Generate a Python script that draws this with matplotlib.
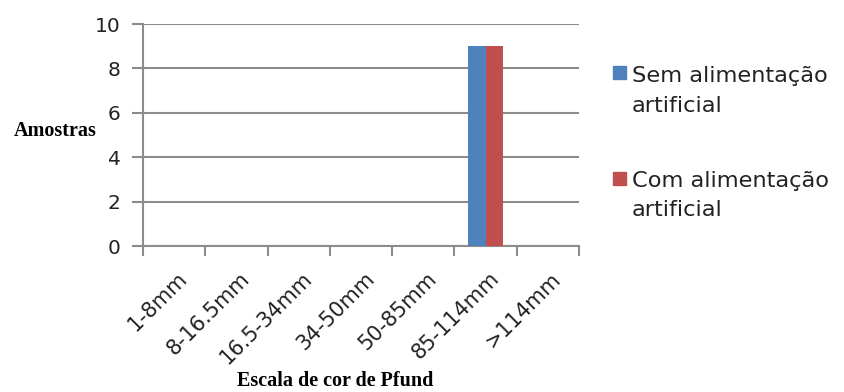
import matplotlib
matplotlib.use("Agg")
import matplotlib.pyplot as plt
from matplotlib.patches import Rectangle
from matplotlib.transforms import ScaledTranslation
import numpy as np

categories = ["1-8mm", "8-16.5mm", "16.5-34mm", "34-50mm", "50-85mm", "85-114mm", ">114mm"]
sem_alimentacao = [0, 0, 0, 0, 0, 9, 0]
com_alimentacao = [0, 0, 0, 0, 0, 9, 0]
series_names = ["Sem alimentação\nartificial", "Com alimentação\nartificial"]
series_colors = ["#4f81bd", "#c0504d"]
y_ticks = [0, 2, 4, 6, 8, 10]

W, H = 844, 392
fig = plt.figure(figsize=(W / 100, H / 100), dpi=100)
ax = fig.add_axes([143 / W, 1 - 246 / H, (579 - 143) / W, (246 - 24) / H])

grid_col = "#8c8c8c"
text_col = "#222222"
sans = "DejaVu Sans"
x = np.arange(len(categories))
w = 0.28
ax.bar(x - w / 2, sem_alimentacao, width=w, color=series_colors[0], zorder=3)
ax.bar(x + w / 2, com_alimentacao, width=w, color=series_colors[1], zorder=3)

ax.set_xlim(-0.5, len(categories) - 0.5)
ax.set_ylim(0, 10)
ax.set_yticks(y_ticks)
ax.yaxis.grid(True, color=grid_col, linewidth=1.5, zorder=0)
ax.set_axisbelow(True)

for side in ["top", "right"]:
    ax.spines[side].set_visible(False)
for side in ["left", "bottom"]:
    ax.spines[side].set_color(grid_col)
    ax.spines[side].set_linewidth(1.5)

# category labels at centres, tick marks at category boundaries
ax.set_xticks(x)
ax.set_xticklabels(categories, rotation=45, ha="right", va="top", rotation_mode="anchor",
                   fontsize=15, family=sans, color=text_col)
ax.tick_params(axis="x", length=0, pad=16)
shift = ScaledTranslation(3 / 100, 0, fig.dpi_scale_trans)
for lbl in ax.get_xticklabels():
    lbl.set_transform(lbl.get_transform() + shift)
ax.set_xticks(np.arange(-0.5, len(categories)), minor=True)
ax.tick_params(axis="x", which="minor", length=7, width=1.5, color=grid_col)
ax.tick_params(axis="y", length=8, width=1.5, color=grid_col, labelsize=14.5, pad=8)
for lbl in ax.get_yticklabels():
    lbl.set_family(sans)
    lbl.set_color(text_col)

fig.text(97 / W, 1 - 131 / H, "Amostras", ha="right", va="center",
         fontsize=14.5, fontweight="bold", family="Liberation Serif")
fig.text(335 / W, 1 - 381 / H, "Escala de cor de Pfund", ha="center", va="center",
         fontsize=14.5, fontweight="bold", family="Liberation Serif")

# legend: colour square beside the first line of each two-line entry
legend_rows = [(66, 82), (172, 187)]
for name, col, (sq_top, base) in zip(series_names, series_colors, legend_rows):
    fig.patches.append(Rectangle((613 / W, 1 - (sq_top + 13) / H), 13 / W, 13 / H,
                                 transform=fig.transFigure, color=col))
    for i, line in enumerate(name.split("\n")):
        fig.text(632 / W, 1 - (base + 29.5 * i) / H, line, ha="left", va="baseline",
                 fontsize=16.2, family=sans, color=text_col)

fig.savefig("out.png", dpi=100)
